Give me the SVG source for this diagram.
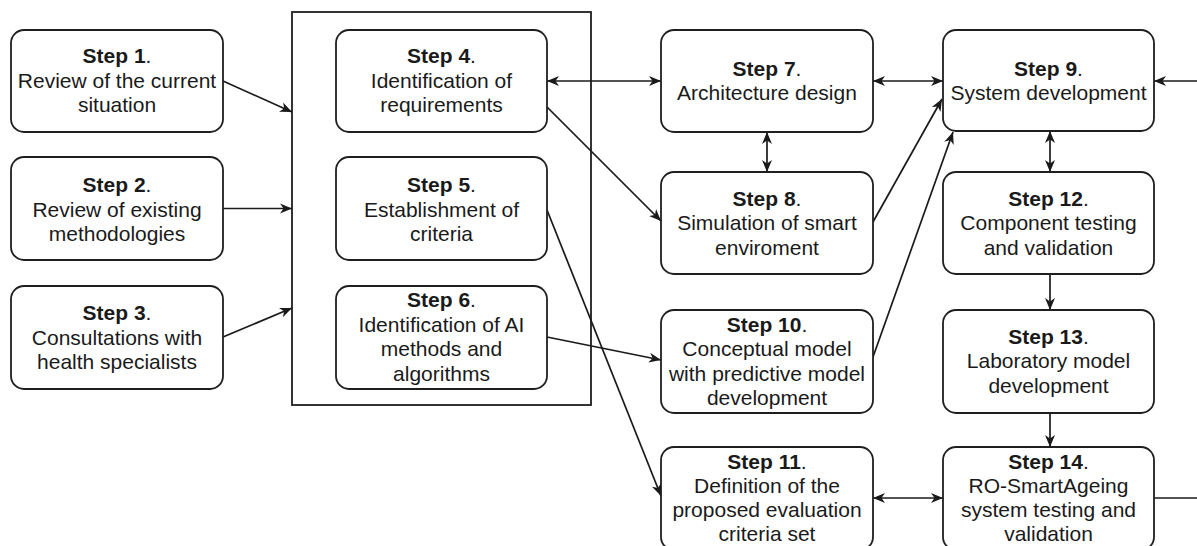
<svg xmlns="http://www.w3.org/2000/svg" width="1197" height="546" viewBox="0 0 1197 546">
<defs>
<marker id="arr" markerUnits="userSpaceOnUse" markerWidth="13" markerHeight="11" refX="12" refY="5.5" orient="auto-start-reverse" viewBox="0 0 13 11">
<path d="M0,0.5 L12,5.5 L0,10.5 L3.5,5.5 Z" fill="#1a1a1a"/>
</marker>
<style>
.box{fill:#fff;stroke:#1f1f1f;stroke-width:1.8}
.cont{fill:none;stroke:#1f1f1f;stroke-width:1.8}
.t{font-family:"Liberation Sans",Arial,sans-serif;font-size:21px;fill:#1a1a1a;text-anchor:middle}
.b{font-weight:bold}
.e{fill:none;stroke:#1a1a1a;stroke-width:1.7}
</style>
</defs>
<rect width="1197" height="546" fill="#fff"/>
<g id="container"><rect class="cont" x="292" y="12" width="299" height="393"/></g>
<g id="connectors">
<line class="e" x1="223" y1="81" x2="292" y2="112" marker-end="url(#arr)"/>
<line class="e" x1="223" y1="208.5" x2="292" y2="208.5" marker-end="url(#arr)"/>
<line class="e" x1="223" y1="337" x2="292" y2="308" marker-end="url(#arr)"/>
<line class="e" x1="547" y1="81" x2="661" y2="81" marker-start="url(#arr)" marker-end="url(#arr)"/>
<line class="e" x1="547" y1="107" x2="661" y2="221" marker-end="url(#arr)"/>
<line class="e" x1="547" y1="210" x2="661" y2="496" marker-end="url(#arr)"/>
<line class="e" x1="547" y1="337" x2="661" y2="360" marker-end="url(#arr)"/>
<line class="e" x1="873" y1="81" x2="943" y2="81" marker-start="url(#arr)" marker-end="url(#arr)"/>
<line class="e" x1="767" y1="132" x2="767" y2="172" marker-start="url(#arr)" marker-end="url(#arr)"/>
<line class="e" x1="873" y1="222" x2="942" y2="99" marker-end="url(#arr)"/>
<line class="e" x1="873" y1="357" x2="953" y2="132" marker-end="url(#arr)"/>
<line class="e" x1="1050" y1="131" x2="1050" y2="172" marker-start="url(#arr)" marker-end="url(#arr)"/>
<line class="e" x1="1050" y1="274" x2="1050" y2="310" marker-end="url(#arr)"/>
<line class="e" x1="1050" y1="413" x2="1050" y2="447" marker-end="url(#arr)"/>
<line class="e" x1="873" y1="498" x2="943" y2="498" marker-start="url(#arr)" marker-end="url(#arr)"/>
<line class="e" x1="1154" y1="498" x2="1197" y2="498"/>
<line class="e" x1="1197" y1="81" x2="1154" y2="81" marker-end="url(#arr)"/>
</g>
<g id="step1"><rect class="box" x="11" y="30" width="212" height="102" rx="13"/>
<text class="t" x="117" y="63"><tspan class="b">Step 1</tspan>.</text>
<text class="t" x="117" y="88">Review of the current</text>
<text class="t" x="117" y="112">situation</text></g>
<g id="step2"><rect class="box" x="11" y="157" width="212" height="103" rx="13"/>
<text class="t" x="117" y="192"><tspan class="b">Step 2</tspan>.</text>
<text class="t" x="117" y="216.5">Review of existing</text>
<text class="t" x="117" y="241">methodologies</text></g>
<g id="step3"><rect class="box" x="11" y="286" width="212" height="103" rx="13"/>
<text class="t" x="117" y="320"><tspan class="b">Step 3</tspan>.</text>
<text class="t" x="117" y="344.5">Consultations with</text>
<text class="t" x="117" y="369">health specialists</text></g>
<g id="step4"><rect class="box" x="336" y="30" width="211" height="102" rx="13"/>
<text class="t" x="441.5" y="63"><tspan class="b">Step 4</tspan>.</text>
<text class="t" x="441.5" y="88">Identification of</text>
<text class="t" x="441.5" y="112">requirements</text></g>
<g id="step5"><rect class="box" x="336" y="157" width="211" height="103" rx="13"/>
<text class="t" x="441.5" y="192"><tspan class="b">Step 5</tspan>.</text>
<text class="t" x="441.5" y="216.5">Establishment of</text>
<text class="t" x="441.5" y="241">criteria</text></g>
<g id="step6"><rect class="box" x="336" y="286" width="211" height="103" rx="13"/>
<text class="t" x="441.5" y="307"><tspan class="b">Step 6</tspan>.</text>
<text class="t" x="441.5" y="331.5">Identification of AI</text>
<text class="t" x="441.5" y="356">methods and</text>
<text class="t" x="441.5" y="380.5">algorithms</text></g>
<g id="step7"><rect class="box" x="661" y="30" width="212" height="102" rx="13"/>
<text class="t" x="767" y="75.5"><tspan class="b">Step 7</tspan>.</text>
<text class="t" x="767" y="100">Architecture design</text></g>
<g id="step8"><rect class="box" x="661" y="172" width="212" height="102" rx="13"/>
<text class="t" x="767" y="205.5"><tspan class="b">Step 8</tspan>.</text>
<text class="t" x="767" y="230">Simulation of smart</text>
<text class="t" x="767" y="254.5">enviroment</text></g>
<g id="step10"><rect class="box" x="661" y="310" width="212" height="103" rx="13"/>
<text class="t" x="767" y="331.5"><tspan class="b">Step 10</tspan>.</text>
<text class="t" x="767" y="356">Conceptual model</text>
<text class="t" x="767" y="380.5">with predictive model</text>
<text class="t" x="767" y="405">development</text></g>
<g id="step11"><rect class="box" x="661" y="447" width="212" height="103" rx="13"/>
<text class="t" x="767" y="469"><tspan class="b">Step 11</tspan>.</text>
<text class="t" x="767" y="493">Definition of the</text>
<text class="t" x="767" y="517">proposed evaluation</text>
<text class="t" x="767" y="541">criteria set</text></g>
<g id="step9"><rect class="box" x="943" y="30" width="211" height="101" rx="13"/>
<text class="t" x="1048.5" y="75.5"><tspan class="b">Step 9</tspan>.</text>
<text class="t" x="1048.5" y="100">System development</text></g>
<g id="step12"><rect class="box" x="943" y="172" width="211" height="102" rx="13"/>
<text class="t" x="1048.5" y="205.5"><tspan class="b">Step 12</tspan>.</text>
<text class="t" x="1048.5" y="230">Component testing</text>
<text class="t" x="1048.5" y="254.5">and validation</text></g>
<g id="step13"><rect class="box" x="943" y="310" width="211" height="103" rx="13"/>
<text class="t" x="1048.5" y="343.5"><tspan class="b">Step 13</tspan>.</text>
<text class="t" x="1048.5" y="368">Laboratory model</text>
<text class="t" x="1048.5" y="392.5">development</text></g>
<g id="step14"><rect class="box" x="943" y="447" width="211" height="103" rx="13"/>
<text class="t" x="1048.5" y="469"><tspan class="b">Step 14</tspan>.</text>
<text class="t" x="1048.5" y="493">RO-SmartAgeing</text>
<text class="t" x="1048.5" y="517">system testing and</text>
<text class="t" x="1048.5" y="541">validation</text></g>
</svg>
